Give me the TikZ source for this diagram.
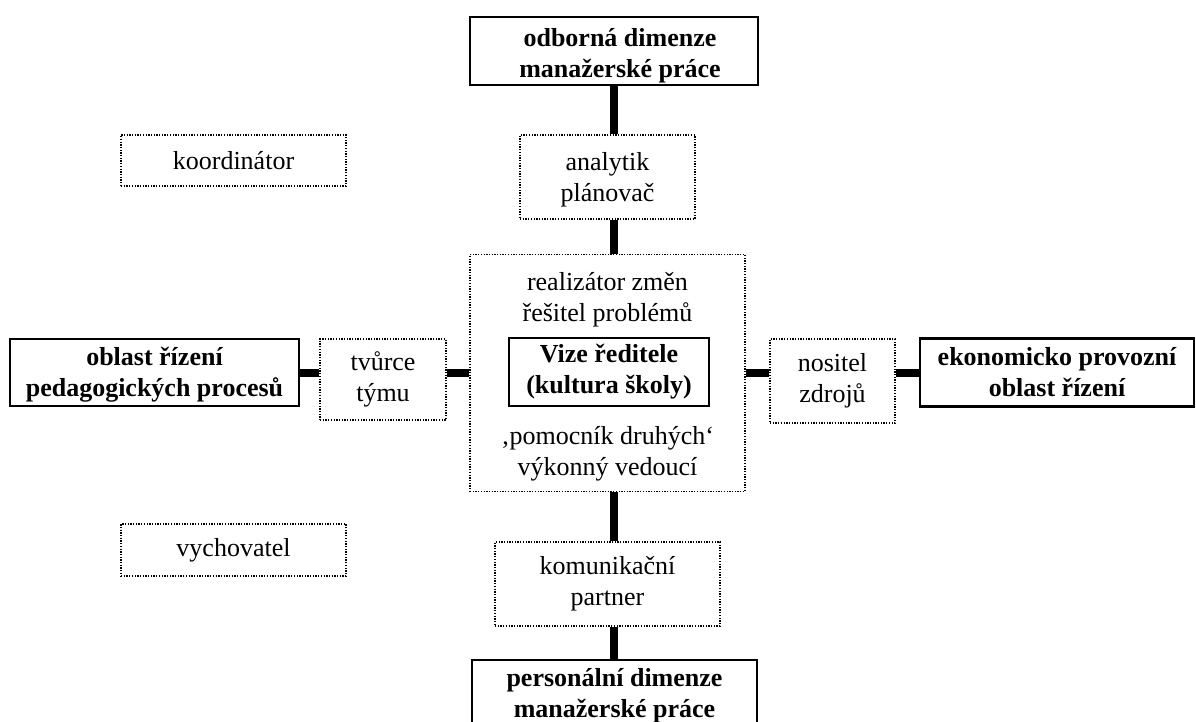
\documentclass[tikz,border=0pt]{standalone}
\usepackage{fontspec}
\setmainfont{Liberation Serif}
% two-line label whose first baseline sits #2 above the box centre, nudged right by #1/2
\newcommand{\offsetlines}[4]{\hspace*{#1}\raisebox{#2}[0pt][0pt]{\begin{tabular}[t]{@{}c@{}}#3\\#4\end{tabular}}}
\begin{document}
\begin{tikzpicture}[x=1pt,y=-1pt,
  every node/.style={font=\fontsize{26}{31}\selectfont, align=center, inner sep=0pt},
  solidbox/.style={draw, line width=2.2pt, rectangle, font=\fontsize{26}{31}\selectfont\bfseries},
  dotbox/.style={draw, line width=1.4pt, dash pattern=on 1.3pt off 1.4pt, rectangle},
  conn/.style={line width=8pt, line cap=butt}]
\useasboundingbox (0,0) rectangle (1196,722);
\begin{scope}
\clip (0,0) rectangle (1196,722);

% outer dimensions of the principal's role
\node[solidbox, minimum width=288, minimum height=68] (top) at (614,51)
  {\offsetlines{12pt}{4pt}{odborná dimenze}{manažerské práce}};
\node[solidbox, minimum width=289, minimum height=67] (left) at (154.5,372.5)
  {\offsetlines{0pt}{7pt}{oblast řízení}{pedagogických procesů}};
\node[solidbox, minimum width=274, minimum height=68] (right) at (1057,372.5)
  {ekonomicko provozní\\oblast řízení};
\node[solidbox, minimum width=285, minimum height=72] (bottom) at (614.5,696)
  {personální dimenze\\manažerské práce};

% roles
\node[dotbox, minimum width=175, minimum height=84] (analytik) at (607.5,177)
  {\offsetlines{0pt}{6pt}{analytik}{plánovač}};
\node[dotbox, minimum width=126, minimum height=81] (tvurce) at (383,379.5)
  {tvůrce\\týmu};
\node[dotbox, minimum width=125, minimum height=84] (nositel) at (832.5,381)
  {nositel\\zdrojů};
\node[dotbox, minimum width=225, minimum height=84] (komun) at (607.5,584)
  {komunikační\\partner};
\node[dotbox, minimum width=225, minimum height=51] (koord) at (233.5,160.5)
  {koordinátor};
\node[dotbox, minimum width=225, minimum height=52] (vych) at (233.5,550)
  {vychovatel};

% central area
\node[dotbox, minimum width=275, minimum height=237] (central) at (607.5,373) {};
\node (ctop) at (607.5,300) {realizátor změn\\řešitel problémů};
\node[solidbox, minimum width=200, minimum height=68] (vize) at (609,372)
  {Vize ředitele\\(kultura školy)};
\node (cbot) at (607.5,454) {‚pomocník druhých‘\\výkonný vedoucí};

% vertical axis
\draw[conn] (top.south) -- (top.south |- analytik.north);
\draw[conn] (top.south |- analytik.south) -- (top.south |- central.north);
\draw[conn] (top.south |- central.south) -- (top.south |- komun.north);
\draw[conn] (top.south |- komun.south) -- (top.south |- bottom.north);

% horizontal axis
\draw[conn] (left.east) -- (tvurce.west |- left.east);
\draw[conn] (tvurce.east |- left.east) -- (central.west |- left.east);
\draw[conn] (central.east |- left.east) -- (nositel.west |- left.east);
\draw[conn] (nositel.east |- left.east) -- (right.west);
\end{scope}
\end{tikzpicture}
\end{document}
